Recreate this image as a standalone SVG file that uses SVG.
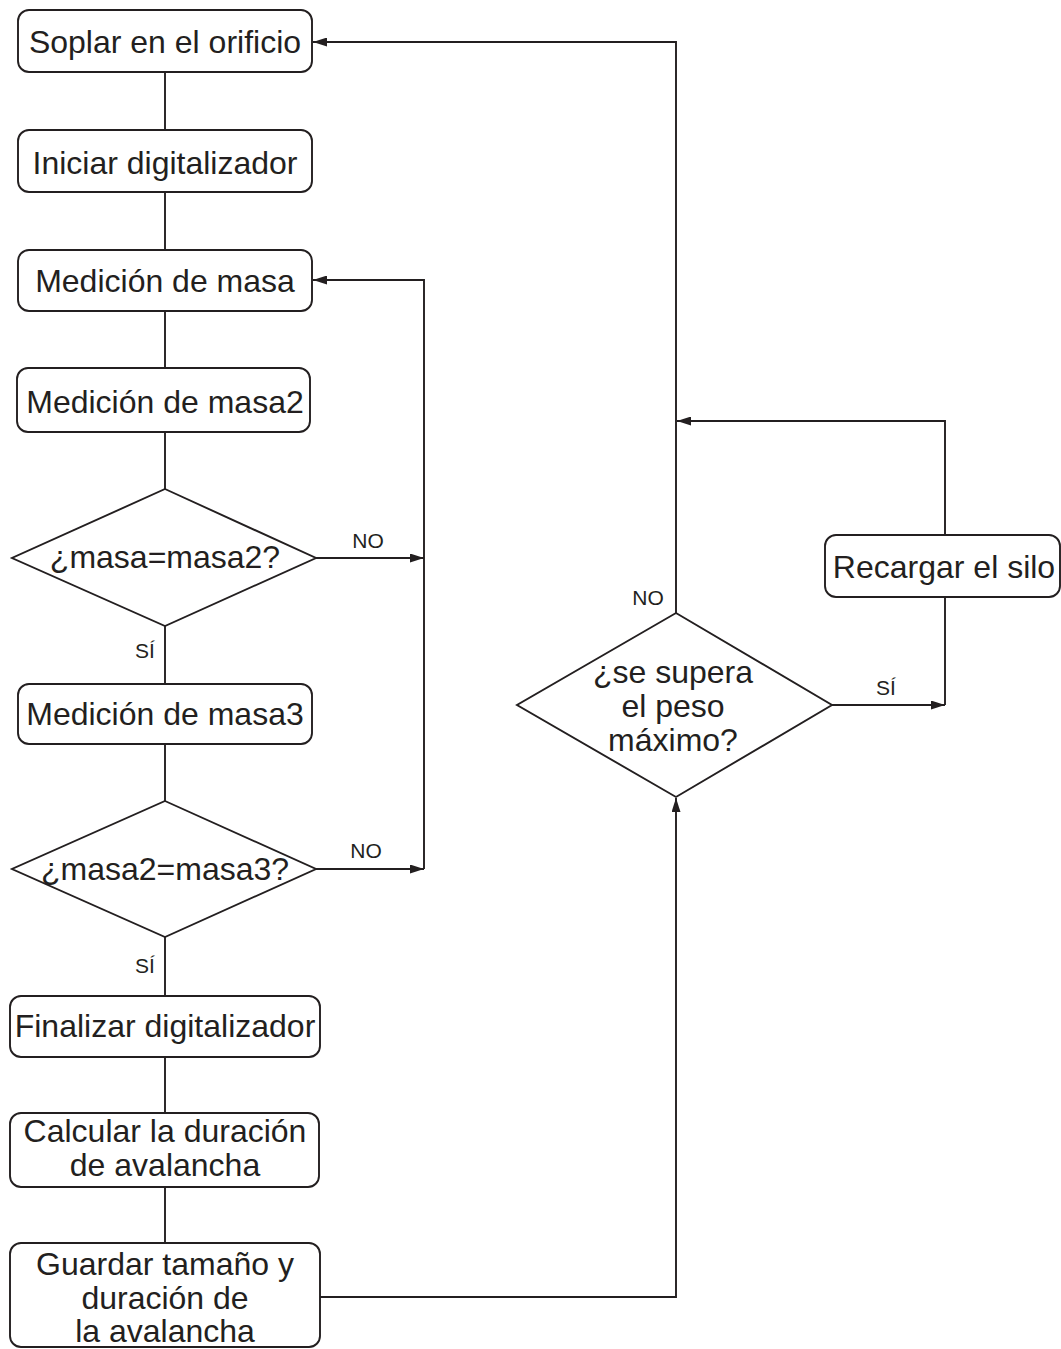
<svg xmlns="http://www.w3.org/2000/svg" width="1061" height="1349" viewBox="0 0 1061 1349">
<defs>
<marker id="arr" viewBox="0 0 14 9" refX="14" refY="4.5" markerWidth="14" markerHeight="9" markerUnits="userSpaceOnUse" orient="auto">
<path d="M0,0 L14,4.5 L0,9 Z" fill="#231f20"/>
</marker>
<style>
.box{fill:#fff;stroke:#231f20;stroke-width:1.9}
.t{font-family:"Liberation Sans",Arial,sans-serif;font-size:32px;fill:#231f20;text-anchor:middle}
.l{font-family:"Liberation Sans",Arial,sans-serif;font-size:21px;fill:#231f20;text-anchor:middle}
.c{fill:none;stroke:#231f20;stroke-width:1.9}
</style>
</defs>
<rect width="1061" height="1349" fill="#fff"/>
<g id="connectors">
<path class="c" d="M165,72 V130"/>
<path class="c" d="M165,192 V250"/>
<path class="c" d="M165,311 V368"/>
<path class="c" d="M165,432 V489"/>
<path class="c" d="M165,626 V684"/>
<path class="c" d="M165,744 V801"/>
<path class="c" d="M165,937 V996"/>
<path class="c" d="M165,1057 V1113"/>
<path class="c" d="M165,1187 V1243"/>
<path class="c" d="M316,558 H424" marker-end="url(#arr)"/>
<path class="c" d="M316,869 H424" marker-end="url(#arr)"/>
<path class="c" d="M424,869 V280 H313" marker-end="url(#arr)"/>
<path class="c" d="M320,1297 H676 V798" marker-end="url(#arr)"/>
<path class="c" d="M676,613 V42 H313" marker-end="url(#arr)"/>
<path class="c" d="M832,705 H945" marker-end="url(#arr)"/>
<path class="c" d="M945,705 V597"/>
<path class="c" d="M945,535 V421 H677" marker-end="url(#arr)"/>
<text class="l" x="368" y="548">NO</text>
<text class="l" x="145" y="658">SÍ</text>
<text class="l" x="366" y="858">NO</text>
<text class="l" x="145" y="973">SÍ</text>
<text class="l" x="648" y="605">NO</text>
<text class="l" x="886" y="695">SÍ</text>
</g>
<g id="n1"><rect class="box" x="18" y="10" width="294" height="62" rx="11"/><text class="t" x="165" y="53">Soplar en el orificio</text></g>
<g id="n2"><rect class="box" x="18" y="130" width="294" height="62" rx="11"/><text class="t" x="165" y="174">Iniciar digitalizador</text></g>
<g id="n3"><rect class="box" x="18" y="250" width="294" height="61" rx="11"/><text class="t" x="165" y="292">Medición de masa</text></g>
<g id="n4"><rect class="box" x="17" y="368" width="293" height="64" rx="11"/><text class="t" x="165" y="413">Medición de masa2</text></g>
<g id="d1"><polygon class="box" points="165,489 316,558 165,626 12,558"/><text class="t" x="165" y="568">¿masa=masa2?</text></g>
<g id="n5"><rect class="box" x="18" y="684" width="294" height="60" rx="11"/><text class="t" x="165" y="725">Medición de masa3</text></g>
<g id="d2"><polygon class="box" points="165,801 316,869 165,937 12,869"/><text class="t" x="165" y="880">¿masa2=masa3?</text></g>
<g id="n6"><rect class="box" x="10" y="996" width="310" height="61" rx="11"/><text class="t" x="165" y="1037">Finalizar digitalizador</text></g>
<g id="n7"><rect class="box" x="10" y="1113" width="309" height="74" rx="11"/><text class="t" x="165" y="1142">Calcular la duración</text><text class="t" x="165" y="1176">de avalancha</text></g>
<g id="n8"><rect class="box" x="10" y="1243" width="310" height="104" rx="11"/><text class="t" x="165" y="1275">Guardar tamaño y</text><text class="t" x="165" y="1309">duración de</text><text class="t" x="165" y="1342">la avalancha</text></g>
<g id="d3"><polygon class="box" points="676,613 832,705 676,797 517,705"/><text class="t" x="673" y="683">¿se supera</text><text class="t" x="673" y="717">el peso</text><text class="t" x="673" y="751">máximo?</text></g>
<g id="n9"><rect class="box" x="825" y="535" width="235" height="62" rx="11"/><text class="t" x="944" y="578">Recargar el silo</text></g>
</svg>
